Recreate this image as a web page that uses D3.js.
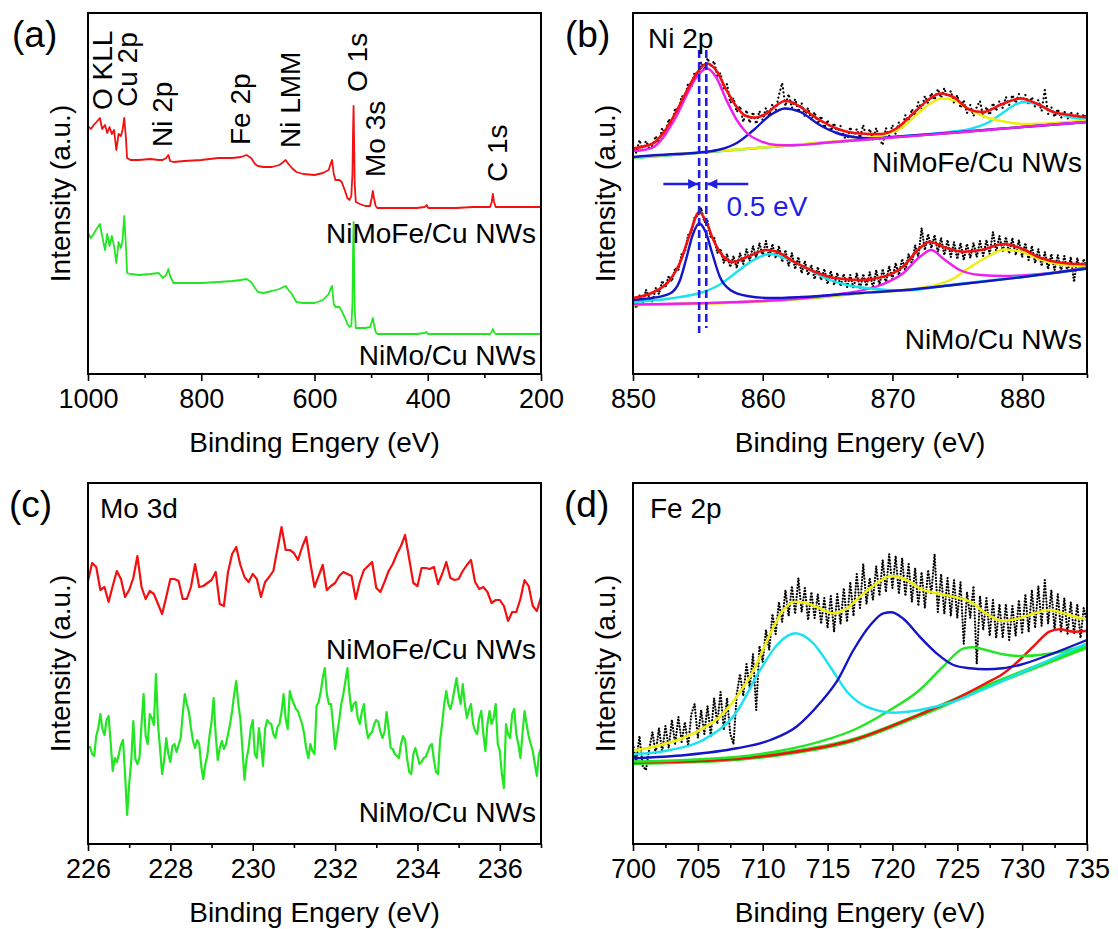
<!DOCTYPE html>
<html lang="en">
<head>
<meta charset="UTF-8">
<title>XPS spectra</title>
<style>
  body { margin: 0; background: #fff; }
  svg text { font-family: Arial, 'Liberation Sans', sans-serif; fill: #000; }
</style>
</head>
<body>
<script src="https://cdn.jsdelivr.net/npm/d3@7/dist/d3.min.js"></script>
<script>
// ---------- (a) survey ----------
const surveyEV = [1000,995,990,985,979,975,970,966,962,958,954,950,946,942,939,936,933,931,925,910,890,875,868,862,858,855,849,830,800,770,745,730,720,712,705,700,690,675,662,655,651,646,640,632,620,600,585,575,571,569,566,563,556,552,546,542,538,535,533,532,531,530,529,527,520,510,502,499,497,495,492,489,470,440,420,405,402,399,380,350,320,300,290,287,285,283,280,260,240,220,200];
const surveyFe = [248,245,249,252,256,245,249,241,247,240,244,224,240,238,244,256,236,216,214,214,215,214,214,216,219,213,212,213,214,216,216,217,219,216,210,208,207,207,209,212,214,210,206,202,200,199,201,204,211,214,200,194,194,192,183,176,174,178,200,240,268,230,190,172,170,168,168,176,183,176,168,166,166,166,166,167,169,166,166,166,167,167,167,172,180,172,167,167,167,167,167];
const surveyMo = [141,136,140,145,150,138,124,140,128,138,128,111,132,126,134,158,128,101,100,99,100,101,96,99,105,98,91,91,91,92,93,94,95,92,86,82,81,83,85,87,88,84,80,72,71,71,74,80,86,88,70,67,67,63,56,50,47,48,70,120,152,110,65,46,46,46,47,52,56,50,42,40,40,40,40,41,42,40,40,40,40,40,40,42,45,42,40,40,40,40,40];
const surveyLabels = ['O KLL','Cu 2p','Ni 2p','Fe 2p','Ni LMM','O 1s','Mo 3s','C 1s'];
const surveyLabelEV = [957.6,913.5,851.7,714,625.6,507.3,475.6,260];
const surveyLabelI = [264,267,227,229,226,282,197,192];

// ---------- (b) Ni 2p ----------
const niStart = 850, niStep = 0.25;
const niDotsFe = [229,221,234,224,233,226,228,238, 231,246,240,255,249,266,262,278, 276,291,287,302,298,312,304,316, 307,313,298,301,284,290,271,276, 262,268,252,264,251,262,250,263, 254,266,258,270,264,279,291,268, 280,266,275,262,271,258,266,254, 262,250,258,246,254,243,251,241, 248,238,233,247,237,245,236,249, 236,245,234,246,235,229,246,238, 249,240,252,246,259,251,265,258, 272,265,278,271,281,274,285,276, 286,275,283,271,279,266,274,261, 269,258,267,273,257,267,259,271, 263,273,266,277,269,279,271,280, 272,279,269,277,267,274,263,284, 260,267,257,265,256,263,255,262, 256,261,254,260,255];
const niDotsMo = [73,66,79,71,84,77,72,86, 80,93,87,98,93,106,104,120, 122,139,142,157,158,166,152,153, 136,137,121,125,111,120,107,118, 106,121,110,125,113,128,116,131, 118,133,117,130,116,128,112,124, 108,121,105,117,101,113,99,109, 95,107,94,105,90,103,89,101, 88,100,87,99,86,101,85,100, 88,102,86,104,89,105,91,108, 95,111,99,115,103,120,110,129, 117,146,124,140,126,139,122,136, 119,134,117,132,115,131,114,130, 116,131,117,133,118,134,120,142, 122,138,123,137,121,136,119,134, 117,131,114,128,111,125,108,122, 105,120,104,119,103,118,102,117, 92,116,103,115,104];

const feBase = [[850,216],[855,221],[860,226.5],[865,231.5],[870,236.5],[875,241.5],[880,247],[885,252]];
const feMagenta = [[850,223],[851,224.5],[851.6,227],[852.3,236],[853,250],[853.4,259],[854.1,278],[854.9,297],[855.7,305.5],[856.4,297],[857.2,274],[858,254],[858.7,242],[859.8,233],[861.1,229],[862.4,228.8],[865,231.5],[870,236.5],[875,241.5],[880,247],[885,252]];
const feBlue = [[850,217],[852,219],[854.1,220.5],[855.5,222],[856.7,224.5],[858,231],[859.3,244],[860.6,259],[861.7,265.5],[862.9,262],[864.4,249],[865.7,241],[867,237],[868.3,235.5],[870,237],[875,241.8],[880,247],[885,252]];
const feYellow = [[850,216.5],[860,226.5],[865,232],[867.5,235],[869.6,240],[870.8,247],[872.1,262],[873,271],[873.8,275.5],[874.7,274],[876,264],[877.3,256.5],[878.6,252.5],[880,250],[882.5,251],[885,253.5]];
const feCyan = [[850,216],[865,231.5],[870,237],[874.7,242.5],[876,245],[877.3,251],[878.6,262],[879.4,269],[880.2,272],[881.3,269],[882.4,262],[883.7,257],[885,254.5]];
const feFit = [[850,225.5],[851.6,231],[852.3,240.5],[853.4,264],[854.1,282],[854.9,300.5],[855.7,310.5],[856.4,304],[857.2,284],[858,267],[858.7,258],[859.3,256.5],[860.3,260.5],[861,268],[861.7,273],[862.3,271.5],[862.9,267],[864.4,254],[865.7,245.5],[867.5,240.5],[869.1,240],[870.3,245.5],[871.6,260.5],[872.9,275.5],[873.7,280.5],[874.7,277],[876,264],[877,262],[878.3,269],[879.9,275.5],[881.1,270.5],[882.4,262],[883.7,259],[885,256.5]];

const moBase = [[850,69],[855,70.5],[859.3,72.3],[863,75],[867,80],[871,84],[874.7,89],[879.9,96.7],[885,105.5]];
const moBlue = [[850,74],[851.5,76],[852.85,80.5],[853.6,93],[854.1,115],[854.6,139],[855.1,150.5],[855.6,142],[856.1,121],[856.7,97],[857.5,84],[858.8,78],[860.6,76],[863,77],[867,80.5],[871,84],[874.7,89],[879.9,96.7],[885,105.5]];
const moCyan = [[850,72],[852.85,75.5],[855.4,82],[856.5,88],[857.5,97],[858.5,107],[859.3,114],[860.3,119.5],[860.6,120],[861.8,115.5],[863.4,105.5],[864.9,95.5],[866.5,89],[868.3,85.5],[870.8,83.5],[874.7,89.5],[879.9,97],[885,105.5]];
const moMagenta = [[850,69.5],[860,73],[865,78.5],[867,82],[869.1,89],[870.8,100.5],[872.1,117],[873,124],[873.9,115.5],[875.2,104],[876.8,99],[878.6,98],[880.5,99],[882.4,101.3],[885,106.5]];
const moYellow = [[850,69],[860,72.8],[867,80.5],[872.1,86],[874.7,95.5],[876,107],[877.3,117],[878.6,124.5],[879.9,122.3],[881.5,114],[883.3,109],[885,107.3]];
const moFit = [[850,76],[851.6,82],[852.85,94],[853.6,110.5],[854.4,140.5],[855.1,162],[855.7,150.5],[856.2,134],[857,117],[857.7,112],[858.8,117],[860.3,124],[861.1,122.3],[862.4,112.3],[864,102.3],[865.7,95.7],[867.5,94],[869.3,97.3],[870.8,107.3],[872.1,125.7],[872.9,132.3],[873.9,127.3],[875.5,122.3],[876.8,124],[878.6,130],[879.9,125.7],[881.5,115.7],[883,111.3],[885,109.7]];
const niShiftEV = [855.1, 855.65];

// ---------- (c) Mo 3d ----------
const moStartFe = 226, moStepFe = 0.1;
const mo3dFe = [263,281,277,254,257,242,258,273,265,247, 254,266,288,257,245,253,250,240,230,247, 265,265,263,245,245,257,280,257,258,261, 264,272,240,238,272,290,297,279,267,262, 270,265,247,262,267,273,295,317,294,294, 291,284,297,307,281,257,268,279,254,258, 261,268,272,270,268,245,262,274,278,282, 256,252,262,273,280,290,298,309,285,261, 258,276,276,275,277,260,270,282,266,264, 265,273,279,284,262,255,257,252,241,244, 244,238,223,232,232,245,264,258,238,233, 247];
const moStartMo = 226, moStepMo = 0.05;
const mo3dMo = [96,97,90,88,108,116,130,115,109,124, 128,102,73,86,82,90,99,104,70,29, 60,83,123,85,80,86,120,150,108,100, 130,126,119,170,120,95,70,84,106,90, 82,98,100,92,99,106,130,150,140,132, 116,103,96,104,100,78,65,80,89,108, 122,146,110,84,96,103,95,100,110,120, 133,150,163,140,125,95,64,85,96,115, 124,90,86,116,100,78,115,124,121,120, 110,106,117,120,132,150,125,115,153,145, 140,135,133,126,120,110,95,86,100,93, 90,138,142,152,166,176,150,140,140,120, 95,110,124,140,150,163,176,150,133,140, 142,126,120,132,140,118,106,110,112,120, 124,122,112,106,112,132,115,96,95,90, 88,86,100,108,104,85,72,70,90,96, 88,80,82,86,87,92,98,100,84,72, 70,104,120,140,153,140,135,143,155,166, 150,140,160,140,126,134,140,120,113,110, 126,133,110,93,120,133,120,126,140,100, 93,70,56,120,110,106,130,135,110,100, 86,110,133,120,108,100,93,80,68,90, 96];

// ---------- (d) Fe 2p ----------
const feStart = 700, feStep = 0.25;
const fe2pDots = [100,82,108,78,74,95,112,90, 116,92,118,96,124,100,127,102, 122,98,130,140,106,134,110,138, 108,146,120,152,114,146,110,100, 150,170,148,180,156,190,134,198, 182,214,194,230,210,242,222,254, 228,258,230,266,232,256,224,252, 226,250,220,246,216,248,212,250, 220,256,222,262,228,270,236,280, 240,266,244,278,248,284,252,290, 256,288,250,286,248,280,242,276, 238,272,236,274,250,290,232,270, 230,266,228,264,226,262,200,252, 226,258,180,248,214,246,208,244, 206,240,206,240,204,238,208,244, 210,250,212,254,216,258,218,264, 220,254,214,250,212,246,210,242, 210,240,206,236,222];
const fe2pBase = [[700,81.3],[706.7,84],[711.8,90.7],[717,104],[722.1,129],[727.2,157.3],[732.4,184],[735,197.3]];
const fe2pRed = [[700,81.3],[706.7,84],[711.8,90.7],[717,104],[722.1,129.5],[724.7,144],[727.2,160.7],[728.5,170],[729.8,184],[731.1,200.7],[732.1,212.3],[732.9,214.7],[734,212.3],[735,213]];
const fe2pGreen = [[700,82.3],[704.1,84],[709.3,89],[714.4,102.3],[717,114],[719.6,132.3],[722.1,154],[723.9,177.3],[725.5,195.7],[726.2,196.7],[727.2,194],[728.5,189.7],[729.8,188],[732.4,190.7],[735,199]];
const fe2pBlue = [[700,85.7],[704.1,89],[708,95.7],[710.6,104],[712.6,117.3],[714.4,140.7],[715.7,162.3],[717,194],[718.3,219],[719.3,230.7],[719.9,231.7],[720.8,225.7],[722.1,207.3],[723.4,190.7],[724.7,179],[726,175.7],[727.2,174.7],[728.5,175.7],[729.8,179],[732.4,190.7],[735,204]];
const fe2pCyan = [[700,89.7],[702.9,94],[705.4,104],[708,132.3],[709.8,174],[711.1,199],[712.5,210.7],[713.9,200.7],[715.2,177.3],[716.5,152.3],[718,137.3],[720.1,131.3],[722.1,134],[724.7,142.3],[727.2,155.7],[729.8,170.7],[732.4,185.7],[735,200.7]];
const fe2pFit = [[700,93.3],[701.6,97.3],[704.1,107.3],[705.4,115.7],[706.7,127.3],[708,147.3],[709.3,174],[710.6,210.7],[711.6,234],[712.5,242.3],[713.4,240.7],[714.4,235.7],[715.4,230.7],[716.5,235.7],[717.5,247.3],[718.8,260.7],[719.9,268],[721.1,264],[722.1,255.7],[723.4,250.7],[724.7,247.3],[726,242.3],[727.2,230.7],[728.5,223.3],[729.8,225.7],[731.1,231.3],[732.1,234],[733.2,230.7],[734.2,226.7],[735,225]];

// ---------- drawing ----------
const width = 1118, height = 929;
const RED = '#f21010', GREEN = '#22e622', MAG = '#f01ef0', BLUE = '#1414c8',
      CYAN = '#19e3f0', YEL = '#eeee10', ANNO = '#1e1ee6';

const svg = d3.select('body').append('svg')
  .attr('width', width).attr('height', height);

svg.append('defs').append('marker')
  .attr('id', 'arrow').attr('viewBox', '0 0 10 10')
  .attr('refX', 10).attr('refY', 5)
  .attr('markerWidth', 11).attr('markerHeight', 10)
  .attr('markerUnits', 'userSpaceOnUse').attr('orient', 'auto')
  .append('path').attr('d', 'M0,0L10,5L0,10Z').attr('fill', ANNO);

function grid(start, step, n) {
  return d3.range(n).map(i => +(start + i * step).toFixed(3));
}

// one panel: frame, ticks, titles, letter
function makePanel(box, xDomain, major, minor, letter) {
  const x = d3.scaleLinear().domain(xDomain).range([box.x0, box.x1]);
  const y = d3.scaleLinear().domain([0, 361]).range([box.y1, box.y0]);
  const g = svg.append('g');

  const minorAxis = g.append('g').attr('transform', 'translate(0,' + box.y1 + ')')
    .call(d3.axisBottom(x).tickValues(minor).tickSize(4).tickFormat(''));
  minorAxis.select('.domain').remove();
  minorAxis.selectAll('line').attr('stroke-width', 1.6);

  const majorAxis = g.append('g').attr('transform', 'translate(0,' + box.y1 + ')')
    .call(d3.axisBottom(x).tickValues(major).tickSize(7).tickPadding(8).tickFormat(d3.format('d')));
  majorAxis.select('.domain').remove();
  majorAxis.selectAll('line').attr('stroke-width', 1.6);
  majorAxis.selectAll('text').attr('font-size', 27).attr('font-family', 'Arial, Liberation Sans, sans-serif');

  g.append('text').attr('x', (box.x0 + box.x1) / 2).attr('y', box.y1 + 78)
    .attr('text-anchor', 'middle').attr('font-size', 28).text('Binding Engery (eV)');
  g.append('text')
    .attr('transform', 'translate(' + (box.x0 - 18) + ',' + ((box.y0 + box.y1) / 2) + ') rotate(-90)')
    .attr('text-anchor', 'middle').attr('font-size', 28).text('Intensity (a.u.)');
  g.append('text').attr('x', box.lx).attr('y', box.y0 + 34)
    .attr('font-size', 37).text(letter);

  const plot = svg.append('g');
  // frame drawn last so it sits on top
  const frame = () => svg.append('rect')
    .attr('x', box.x0).attr('y', box.y0)
    .attr('width', box.x1 - box.x0).attr('height', box.y1 - box.y0)
    .attr('fill', 'none').attr('stroke', '#000').attr('stroke-width', 2);
  return {x, y, plot, frame, box};
}

function addLine(p, data, color, w, curve) {
  const line = d3.line().x(d => p.x(d[0])).y(d => p.y(d[1])).curve(curve || d3.curveLinear);
  return p.plot.append('path').datum(data).attr('d', line)
    .attr('fill', 'none').attr('stroke', color).attr('stroke-width', w)
    .attr('stroke-linejoin', 'round');
}
function addDots(p, data, gap) {
  addLine(p, data, '#000', 2.2).attr('stroke-dasharray', '0.1 ' + (gap || 3.2)).attr('stroke-linecap', 'round');
}
function sampleText(p, txt, yI, size) {
  p.plot.append('text').attr('x', p.box.x1 - 5).attr('y', yI)
    .attr('text-anchor', 'end').attr('font-size', size || 28).text(txt);
}

// (a)
const pa = makePanel({x0: 88, x1: 541, y0: 13, y1: 374, lx: 12}, [1000, 200],
  [1000, 800, 600, 400, 200], [900, 700, 500, 300], '(a)');
addLine(pa, d3.zip(surveyEV, surveyFe), RED, 1.8);
addLine(pa, d3.zip(surveyEV, surveyMo), GREEN, 1.8);
surveyLabels.forEach((t, i) => {
  pa.plot.append('text')
    .attr('transform', 'translate(' + pa.x(surveyLabelEV[i]) + ',' + pa.y(surveyLabelI[i]) + ') rotate(-90)')
    .attr('font-size', 28).text(t);
});
sampleText(pa, 'NiMoFe/Cu NWs', 243);
sampleText(pa, 'NiMo/Cu NWs', 365);
pa.frame();

// (b)
const pb = makePanel({x0: 633, x1: 1087, y0: 13, y1: 374, lx: 565}, [850, 885],
  [850, 860, 870, 880], [855, 865, 875, 885], '(b)');
const niEV = grid(niStart, niStep, niDotsFe.length);
addDots(pb, d3.zip(niEV, niDotsFe), 4);
addDots(pb, d3.zip(niEV, niDotsMo), 3);
const smooth = d3.curveMonotoneX;
addLine(pb, feBase, '#9be010', 2.4, smooth);
addLine(pb, feCyan, CYAN, 2.4, smooth);
addLine(pb, feYellow, YEL, 2.4, smooth);
addLine(pb, feBlue, BLUE, 2.4, smooth);
addLine(pb, feMagenta, MAG, 2.4, smooth);
addLine(pb, feFit, RED, 2.6, smooth);
addLine(pb, moBase, '#9be010', 2.4, smooth);
addLine(pb, moYellow, YEL, 2.4, smooth);
addLine(pb, moMagenta, MAG, 2.4, smooth);
addLine(pb, moCyan, CYAN, 2.4, smooth);
addLine(pb, moBlue, BLUE, 2.4, smooth);
addLine(pb, moFit, RED, 2.6, smooth);
// shift markers
niShiftEV.forEach((e, i) => {
  pb.plot.append('line')
    .attr('x1', pb.x(e)).attr('x2', pb.x(e))
    .attr('y1', pb.y(324)).attr('y2', pb.y(i === 0 ? 41 : 46))
    .attr('stroke', ANNO).attr('stroke-width', 2.6).attr('stroke-dasharray', '8,4');
});
pb.plot.append('line')
  .attr('x1', pb.x(niShiftEV[0] - 2.76)).attr('x2', pb.x(niShiftEV[0]) - 1)
  .attr('y1', pb.y(190)).attr('y2', pb.y(190))
  .attr('stroke', ANNO).attr('stroke-width', 2.5).attr('marker-end', 'url(#arrow)');
pb.plot.append('line')
  .attr('x1', pb.x(niShiftEV[1] + 3.24)).attr('x2', pb.x(niShiftEV[1]) + 1)
  .attr('y1', pb.y(190)).attr('y2', pb.y(190))
  .attr('stroke', ANNO).attr('stroke-width', 2.5).attr('marker-end', 'url(#arrow)');
pb.plot.append('text').attr('x', pb.x(857.2)).attr('y', pb.y(158))
  .attr('font-size', 28).style('fill', ANNO).text('0.5 eV');
pb.plot.append('text').attr('x', 648).attr('y', 48).attr('font-size', 28).text('Ni 2p');
sampleText(pb, 'NiMoFe/Cu NWs', 172);
sampleText(pb, 'NiMo/Cu NWs', 349);
pb.frame();

// (c)
const pc = makePanel({x0: 88, x1: 541, y0: 483, y1: 844, lx: 9}, [226, 237],
  [226, 228, 230, 232, 234, 236], [227, 229, 231, 233, 235, 237], '(c)');
addLine(pc, d3.zip(grid(moStartFe, moStepFe, mo3dFe.length), mo3dFe), RED, 2.2);
addLine(pc, d3.zip(grid(moStartMo, moStepMo, mo3dMo.length), mo3dMo), GREEN, 2.2);
pc.plot.append('text').attr('x', 100).attr('y', 518).attr('font-size', 28).text('Mo 3d');
sampleText(pc, 'NiMoFe/Cu NWs', 659);
sampleText(pc, 'NiMo/Cu NWs', 822);
pc.frame();

// (d)
const pd = makePanel({x0: 633, x1: 1087, y0: 483, y1: 844, lx: 564}, [700, 735],
  [700, 705, 710, 715, 720, 725, 730, 735], [702.5, 707.5, 712.5, 717.5, 722.5, 727.5, 732.5], '(d)');
addDots(pd, d3.zip(grid(feStart, feStep, fe2pDots.length), fe2pDots), 3);
addLine(pd, fe2pBase, GREEN, 4.5, smooth);
addLine(pd, fe2pRed, RED, 2.4, smooth);
addLine(pd, fe2pGreen, GREEN, 2.4, smooth);
addLine(pd, fe2pCyan, CYAN, 2.4, smooth);
addLine(pd, fe2pBlue, BLUE, 2.4, smooth);
addLine(pd, fe2pFit, YEL, 2.6, smooth);
pd.plot.append('text').attr('x', 650).attr('y', 518).attr('font-size', 28).text('Fe 2p');
pd.frame();
</script>
</body>
</html>
